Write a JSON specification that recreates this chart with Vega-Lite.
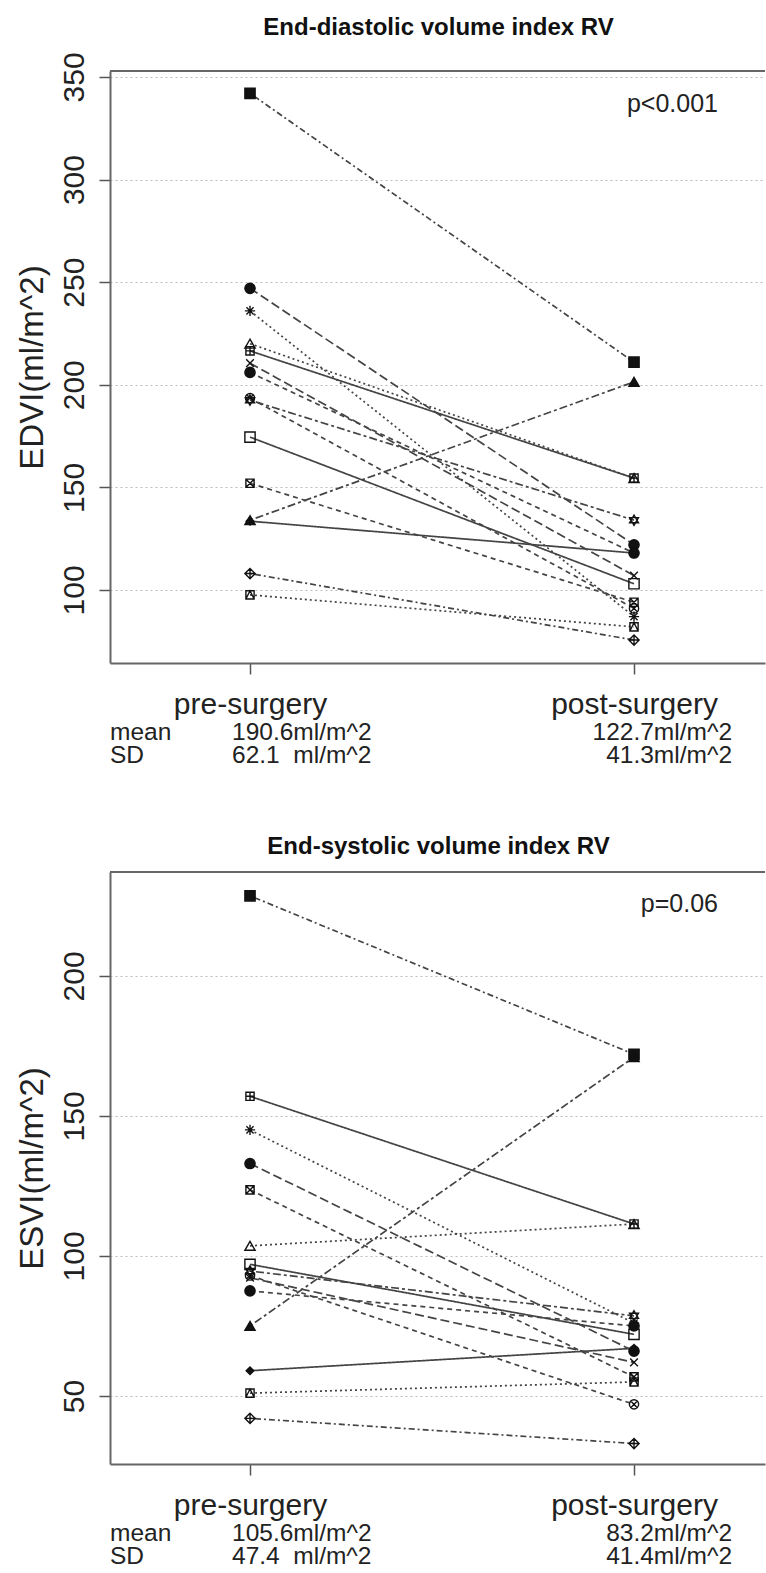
{
  "$schema": "https://vega.github.io/schema/vega-lite/v6.json",
  "background": "white",
  "autosize": {"type": "pad"},
  "padding": {"left": 16, "top": 15, "right": 0, "bottom": 0},
  "bounds": "flush",
  "spacing": 209,
  "config": {
    "view": {"stroke": null},
    "font": "Liberation Sans",
    "text": {"font": "Liberation Sans", "color": "#222"}
  },
  "datasets": {
    "edvi": [
      {"subject": "p15", "time": 1, "value": 342}, {"subject": "p15", "time": 2, "value": 211},
      {"subject": "p16", "time": 1, "value": 247}, {"subject": "p16", "time": 2, "value": 122},
      {"subject": "p8", "time": 1, "value": 236}, {"subject": "p8", "time": 2, "value": 87},
      {"subject": "p2", "time": 1, "value": 220}, {"subject": "p2", "time": 2, "value": 154.5},
      {"subject": "p12", "time": 1, "value": 216.5}, {"subject": "p12", "time": 2, "value": 154.5},
      {"subject": "p4", "time": 1, "value": 210.5}, {"subject": "p4", "time": 2, "value": 107},
      {"subject": "p19", "time": 1, "value": 206}, {"subject": "p19", "time": 2, "value": 118},
      {"subject": "p13", "time": 1, "value": 193.5}, {"subject": "p13", "time": 2, "value": 91},
      {"subject": "p11", "time": 1, "value": 192.5}, {"subject": "p11", "time": 2, "value": 134},
      {"subject": "p0", "time": 1, "value": 174.5}, {"subject": "p0", "time": 2, "value": 103},
      {"subject": "p7", "time": 1, "value": 152}, {"subject": "p7", "time": 2, "value": 94},
      {"subject": "p17", "time": 1, "value": 134}, {"subject": "p17", "time": 2, "value": 201.4},
      {"subject": "p18", "time": 1, "value": 133.5}, {"subject": "p18", "time": 2, "value": 118},
      {"subject": "p9", "time": 1, "value": 108}, {"subject": "p9", "time": 2, "value": 75.6},
      {"subject": "p14", "time": 1, "value": 97.6}, {"subject": "p14", "time": 2, "value": 82}
    ],
    "esvi": [
      {"subject": "p15", "time": 1, "value": 228.6}, {"subject": "p15", "time": 2, "value": 172},
      {"subject": "p12", "time": 1, "value": 157}, {"subject": "p12", "time": 2, "value": 111.4},
      {"subject": "p8", "time": 1, "value": 145}, {"subject": "p8", "time": 2, "value": 76},
      {"subject": "p16", "time": 1, "value": 133}, {"subject": "p16", "time": 2, "value": 66},
      {"subject": "p7", "time": 1, "value": 123.6}, {"subject": "p7", "time": 2, "value": 56.8},
      {"subject": "p2", "time": 1, "value": 103.6}, {"subject": "p2", "time": 2, "value": 111.4},
      {"subject": "p0", "time": 1, "value": 97}, {"subject": "p0", "time": 2, "value": 72},
      {"subject": "p11", "time": 1, "value": 94.6}, {"subject": "p11", "time": 2, "value": 78.6},
      {"subject": "p13", "time": 1, "value": 93}, {"subject": "p13", "time": 2, "value": 47},
      {"subject": "p4", "time": 1, "value": 92.2}, {"subject": "p4", "time": 2, "value": 62},
      {"subject": "p19", "time": 1, "value": 87.5}, {"subject": "p19", "time": 2, "value": 75},
      {"subject": "p17", "time": 1, "value": 75}, {"subject": "p17", "time": 2, "value": 171},
      {"subject": "p18", "time": 1, "value": 59}, {"subject": "p18", "time": 2, "value": 67},
      {"subject": "p14", "time": 1, "value": 51}, {"subject": "p14", "time": 2, "value": 55},
      {"subject": "p9", "time": 1, "value": 42}, {"subject": "p9", "time": 2, "value": 33}
    ],
    "stats": [
      {"panel": "EDVI", "time": 1, "lines": "190.6ml/m^2\n62.1\u00a0\u00a0ml/m^2"},
      {"panel": "EDVI", "time": 2, "lines": "122.7ml/m^2\n41.3ml/m^2"},
      {"panel": "ESVI", "time": 1, "lines": "105.6ml/m^2\n47.4\u00a0\u00a0ml/m^2"},
      {"panel": "ESVI", "time": 2, "lines": "83.2ml/m^2\n41.4ml/m^2"}
    ],
    "rowlabels": [{"lines": "mean\nSD"}],
    "pvals": [{"panel": "EDVI", "p": "p<0.001"}, {"panel": "ESVI", "p": "p=0.06"}]
  },
  "vconcat": [
    {
      "width": 655,
      "height": 592,
      "title": {"text": "End-diastolic volume index RV", "fontSize": 24, "fontWeight": "bold", "font": "Liberation Sans", "color": "#111", "baseline": "alphabetic", "offset": -7, "anchor": "middle", "dx": 1},
      "layer": [
        {
          "data": {"name": "edvi"},
          "mark": {"type": "line", "strokeWidth": 1.7, "color": "#444"},
          "encoding": {
            "x": {"field": "time", "type": "quantitative", "scale": {"domain": [0.6354, 2.3411], "nice": false, "zero": false},
              "axis": {"values": [1, 2], "labelExpr": "datum.value == 1 ? 'pre-surgery' : 'post-surgery'", "title": null, "grid": false, "domainColor": "#666", "domainWidth": 2, "tickColor": "#555", "tickWidth": 1.5, "tickSize": 11, "labelFontSize": 30, "labelPadding": 15, "labelColor": "#222", "labelFont": "Liberation Sans"}},
            "y": {"field": "value", "type": "quantitative", "scale": {"domain": [64.4, 352.9], "nice": false, "zero": false},
              "axis": {"values": [100, 150, 200, 250, 300, 350], "title": "EDVI(ml/m^2)", "titleFontSize": 33, "titleFont": "Liberation Sans", "titleFontWeight": "normal", "titleColor": "#222", "titleX": -68, "titleY": 296, "titleAngle": -90, "titleBaseline": "alphabetic", "titleAlign": "center", "labelAngle": -90, "labelAlign": "center", "labelBaseline": "alphabetic", "labelFontSize": 30, "labelFont": "Liberation Sans", "labelPadding": 16, "labelColor": "#222", "tickSize": 11, "tickColor": "#555", "tickWidth": 1.5, "domainColor": "#666", "domainWidth": 2, "grid": true, "gridColor": "#bbb", "gridDash": [2, 3], "gridWidth": 1.2}},
            "detail": {"field": "subject", "type": "nominal"},
            "strokeDash": {"field": "subject", "type": "nominal", "legend": null,
              "scale": {"domain": ["p0","p2","p4","p7","p8","p9","p11","p12","p13","p14","p15","p16","p17","p18","p19"],
                "range": [[1,0],[2,3],[9,4],[5,4],[2,3],[2,3,6,3],[3,3,8,3],[1,0],[5,4],[2,3],[2,3,6,3],[9,4],[3,3,8,3],[1,0],[5,4]]}}
          }
        },
        {
          "data": {"name": "pvals"},
          "transform": [{"filter": "datum.panel == 'EDVI'"}],
          "mark": {"type": "rule", "color": "#666", "strokeWidth": 2},
          "encoding": {
            "y": {"datum": 352.9, "type": "quantitative"}
          }
        },
        {
          "data": {"name": "edvi"},
          "mark": {"type": "point", "size": 105, "strokeWidth": 1.4, "stroke": "#111", "opacity": 1},
          "encoding": {
            "x": {"field": "time", "type": "quantitative"},
            "y": {"field": "value", "type": "quantitative"},
            "shape": {"field": "subject", "type": "nominal", "legend": null,
              "scale": {"domain": ["p0","p2","p4","p7","p8","p9","p11","p12","p13","p14","p15","p16","p17","p18","p19"],
                "range": ["square", "triangle-up", "M-0.75,-0.75L0.75,0.75M-0.75,0.75L0.75,-0.75", "M-0.8,-0.8H0.8V0.8H-0.8Z M-0.8,-0.8L0.8,0.8 M-0.8,0.8L0.8,-0.8", "M-1,0H1 M0,-1V1 M-0.7,-0.7L0.7,0.7 M-0.7,0.7L0.7,-0.7", "M0,-1L1,0L0,1L-1,0Z M-1,0H1 M0,-1V1", "M0,-1L0.87,0.5L-0.87,0.5Z M0,1L0.87,-0.5L-0.87,-0.5Z", "M-0.8,-0.8H0.8V0.8H-0.8Z M-0.8,0H0.8 M0,-0.8V0.8", "M-0.9,0A0.9,0.9,0,1,1,0.9,0A0.9,0.9,0,1,1,-0.9,0Z M-0.64,-0.64L0.64,0.64 M-0.64,0.64L0.64,-0.64", "M-0.8,-0.8H0.8V0.8H-0.8Z M-0.8,0.8L0,-0.8L0.8,0.8", "square", "circle", "triangle-up", "M0,-0.75L0.75,0L0,0.75L-0.75,0Z", "circle"]}},
            "fill": {"field": "subject", "type": "nominal", "legend": null,
              "scale": {"domain": ["p0","p2","p4","p7","p8","p9","p11","p12","p13","p14","p15","p16","p17","p18","p19"],
                "range": ["transparent","transparent","transparent","transparent","transparent","transparent","transparent","transparent","transparent","transparent","#111","#111","#111","#111","#111"]}}
          }
        },
        {
          "data": {"name": "pvals"},
          "transform": [{"filter": "datum.panel == 'EDVI'"}],
          "mark": {"type": "text", "fontSize": 25, "align": "right", "baseline": "alphabetic", "color": "#222"},
          "encoding": {
            "x": {"datum": 2.2188, "type": "quantitative"},
            "y": {"datum": 332.9, "type": "quantitative"},
            "text": {"field": "p", "type": "nominal"}
          }
        },
        {
          "data": {"name": "stats"},
          "transform": [{"filter": "datum.panel == 'EDVI' && datum.time == 1"}],
          "mark": {"type": "text", "fontSize": 24.5, "align": "left", "baseline": "alphabetic", "lineBreak": "\n", "lineHeight": 23, "dx": -18, "color": "#222"},
          "encoding": {
            "x": {"field": "time", "type": "quantitative"},
            "y": {"datum": 26.9, "type": "quantitative"},
            "text": {"field": "lines", "type": "nominal"}
          }
        },
        {
          "data": {"name": "stats"},
          "transform": [{"filter": "datum.panel == 'EDVI' && datum.time == 2"}],
          "mark": {"type": "text", "fontSize": 24.5, "align": "right", "baseline": "alphabetic", "lineBreak": "\n", "lineHeight": 23, "dx": 98, "color": "#222"},
          "encoding": {
            "x": {"field": "time", "type": "quantitative"},
            "y": {"datum": 26.9, "type": "quantitative"},
            "text": {"field": "lines", "type": "nominal"}
          }
        },
        {
          "data": {"name": "rowlabels"},
          "mark": {"type": "text", "fontSize": 24.5, "align": "left", "baseline": "alphabetic", "lineBreak": "\n", "lineHeight": 23, "color": "#222"},
          "encoding": {
            "x": {"datum": 0.6354, "type": "quantitative"},
            "y": {"datum": 26.9, "type": "quantitative"},
            "text": {"field": "lines", "type": "nominal"}
          }
        }
      ]
    },
    {
      "width": 655,
      "height": 592,
      "title": {"text": "End-systolic volume index RV", "fontSize": 24, "fontWeight": "bold", "font": "Liberation Sans", "color": "#111", "baseline": "alphabetic", "offset": -7, "anchor": "middle", "dx": 1},
      "layer": [
        {
          "data": {"name": "esvi"},
          "mark": {"type": "line", "strokeWidth": 1.7, "color": "#444"},
          "encoding": {
            "x": {"field": "time", "type": "quantitative", "scale": {"domain": [0.6354, 2.3411], "nice": false, "zero": false},
              "axis": {"values": [1, 2], "labelExpr": "datum.value == 1 ? 'pre-surgery' : 'post-surgery'", "title": null, "grid": false, "domainColor": "#666", "domainWidth": 2, "tickColor": "#555", "tickWidth": 1.5, "tickSize": 11, "labelFontSize": 30, "labelPadding": 15, "labelColor": "#222", "labelFont": "Liberation Sans"}},
            "y": {"field": "value", "type": "quantitative", "scale": {"domain": [25.7, 237.1], "nice": false, "zero": false},
              "axis": {"values": [50, 100, 150, 200], "title": "ESVI(ml/m^2)", "titleFontSize": 33, "titleFont": "Liberation Sans", "titleFontWeight": "normal", "titleColor": "#222", "titleX": -68, "titleY": 296, "titleAngle": -90, "titleBaseline": "alphabetic", "titleAlign": "center", "labelAngle": -90, "labelAlign": "center", "labelBaseline": "alphabetic", "labelFontSize": 30, "labelFont": "Liberation Sans", "labelPadding": 16, "labelColor": "#222", "tickSize": 11, "tickColor": "#555", "tickWidth": 1.5, "domainColor": "#666", "domainWidth": 2, "grid": true, "gridColor": "#bbb", "gridDash": [2, 3], "gridWidth": 1.2}},
            "detail": {"field": "subject", "type": "nominal"},
            "strokeDash": {"field": "subject", "type": "nominal", "legend": null,
              "scale": {"domain": ["p0","p2","p4","p7","p8","p9","p11","p12","p13","p14","p15","p16","p17","p18","p19"],
                "range": [[1,0],[2,3],[9,4],[5,4],[2,3],[2,3,6,3],[3,3,8,3],[1,0],[5,4],[2,3],[2,3,6,3],[9,4],[3,3,8,3],[1,0],[5,4]]}}
          }
        },
        {
          "data": {"name": "pvals"},
          "transform": [{"filter": "datum.panel == 'ESVI'"}],
          "mark": {"type": "rule", "color": "#666", "strokeWidth": 2},
          "encoding": {
            "y": {"datum": 237.1, "type": "quantitative"}
          }
        },
        {
          "data": {"name": "esvi"},
          "mark": {"type": "point", "size": 105, "strokeWidth": 1.4, "stroke": "#111", "opacity": 1},
          "encoding": {
            "x": {"field": "time", "type": "quantitative"},
            "y": {"field": "value", "type": "quantitative"},
            "shape": {"field": "subject", "type": "nominal", "legend": null,
              "scale": {"domain": ["p0","p2","p4","p7","p8","p9","p11","p12","p13","p14","p15","p16","p17","p18","p19"],
                "range": ["square", "triangle-up", "M-0.75,-0.75L0.75,0.75M-0.75,0.75L0.75,-0.75", "M-0.8,-0.8H0.8V0.8H-0.8Z M-0.8,-0.8L0.8,0.8 M-0.8,0.8L0.8,-0.8", "M-1,0H1 M0,-1V1 M-0.7,-0.7L0.7,0.7 M-0.7,0.7L0.7,-0.7", "M0,-1L1,0L0,1L-1,0Z M-1,0H1 M0,-1V1", "M0,-1L0.87,0.5L-0.87,0.5Z M0,1L0.87,-0.5L-0.87,-0.5Z", "M-0.8,-0.8H0.8V0.8H-0.8Z M-0.8,0H0.8 M0,-0.8V0.8", "M-0.9,0A0.9,0.9,0,1,1,0.9,0A0.9,0.9,0,1,1,-0.9,0Z M-0.64,-0.64L0.64,0.64 M-0.64,0.64L0.64,-0.64", "M-0.8,-0.8H0.8V0.8H-0.8Z M-0.8,0.8L0,-0.8L0.8,0.8", "square", "circle", "triangle-up", "M0,-0.75L0.75,0L0,0.75L-0.75,0Z", "circle"]}},
            "fill": {"field": "subject", "type": "nominal", "legend": null,
              "scale": {"domain": ["p0","p2","p4","p7","p8","p9","p11","p12","p13","p14","p15","p16","p17","p18","p19"],
                "range": ["transparent","transparent","transparent","transparent","transparent","transparent","transparent","transparent","transparent","transparent","#111","#111","#111","#111","#111"]}}
          }
        },
        {
          "data": {"name": "pvals"},
          "transform": [{"filter": "datum.panel == 'ESVI'"}],
          "mark": {"type": "text", "fontSize": 25, "align": "right", "baseline": "alphabetic", "color": "#222"},
          "encoding": {
            "x": {"datum": 2.2188, "type": "quantitative"},
            "y": {"datum": 222.9, "type": "quantitative"},
            "text": {"field": "p", "type": "nominal"}
          }
        },
        {
          "data": {"name": "stats"},
          "transform": [{"filter": "datum.panel == 'ESVI' && datum.time == 1"}],
          "mark": {"type": "text", "fontSize": 24.5, "align": "left", "baseline": "alphabetic", "lineBreak": "\n", "lineHeight": 23, "dx": -18, "color": "#222"},
          "encoding": {
            "x": {"field": "time", "type": "quantitative"},
            "y": {"datum": -1.8, "type": "quantitative"},
            "text": {"field": "lines", "type": "nominal"}
          }
        },
        {
          "data": {"name": "stats"},
          "transform": [{"filter": "datum.panel == 'ESVI' && datum.time == 2"}],
          "mark": {"type": "text", "fontSize": 24.5, "align": "right", "baseline": "alphabetic", "lineBreak": "\n", "lineHeight": 23, "dx": 98, "color": "#222"},
          "encoding": {
            "x": {"field": "time", "type": "quantitative"},
            "y": {"datum": -1.8, "type": "quantitative"},
            "text": {"field": "lines", "type": "nominal"}
          }
        },
        {
          "data": {"name": "rowlabels"},
          "mark": {"type": "text", "fontSize": 24.5, "align": "left", "baseline": "alphabetic", "lineBreak": "\n", "lineHeight": 23, "color": "#222"},
          "encoding": {
            "x": {"datum": 0.6354, "type": "quantitative"},
            "y": {"datum": -1.8, "type": "quantitative"},
            "text": {"field": "lines", "type": "nominal"}
          }
        }
      ]
    }
  ]
}
